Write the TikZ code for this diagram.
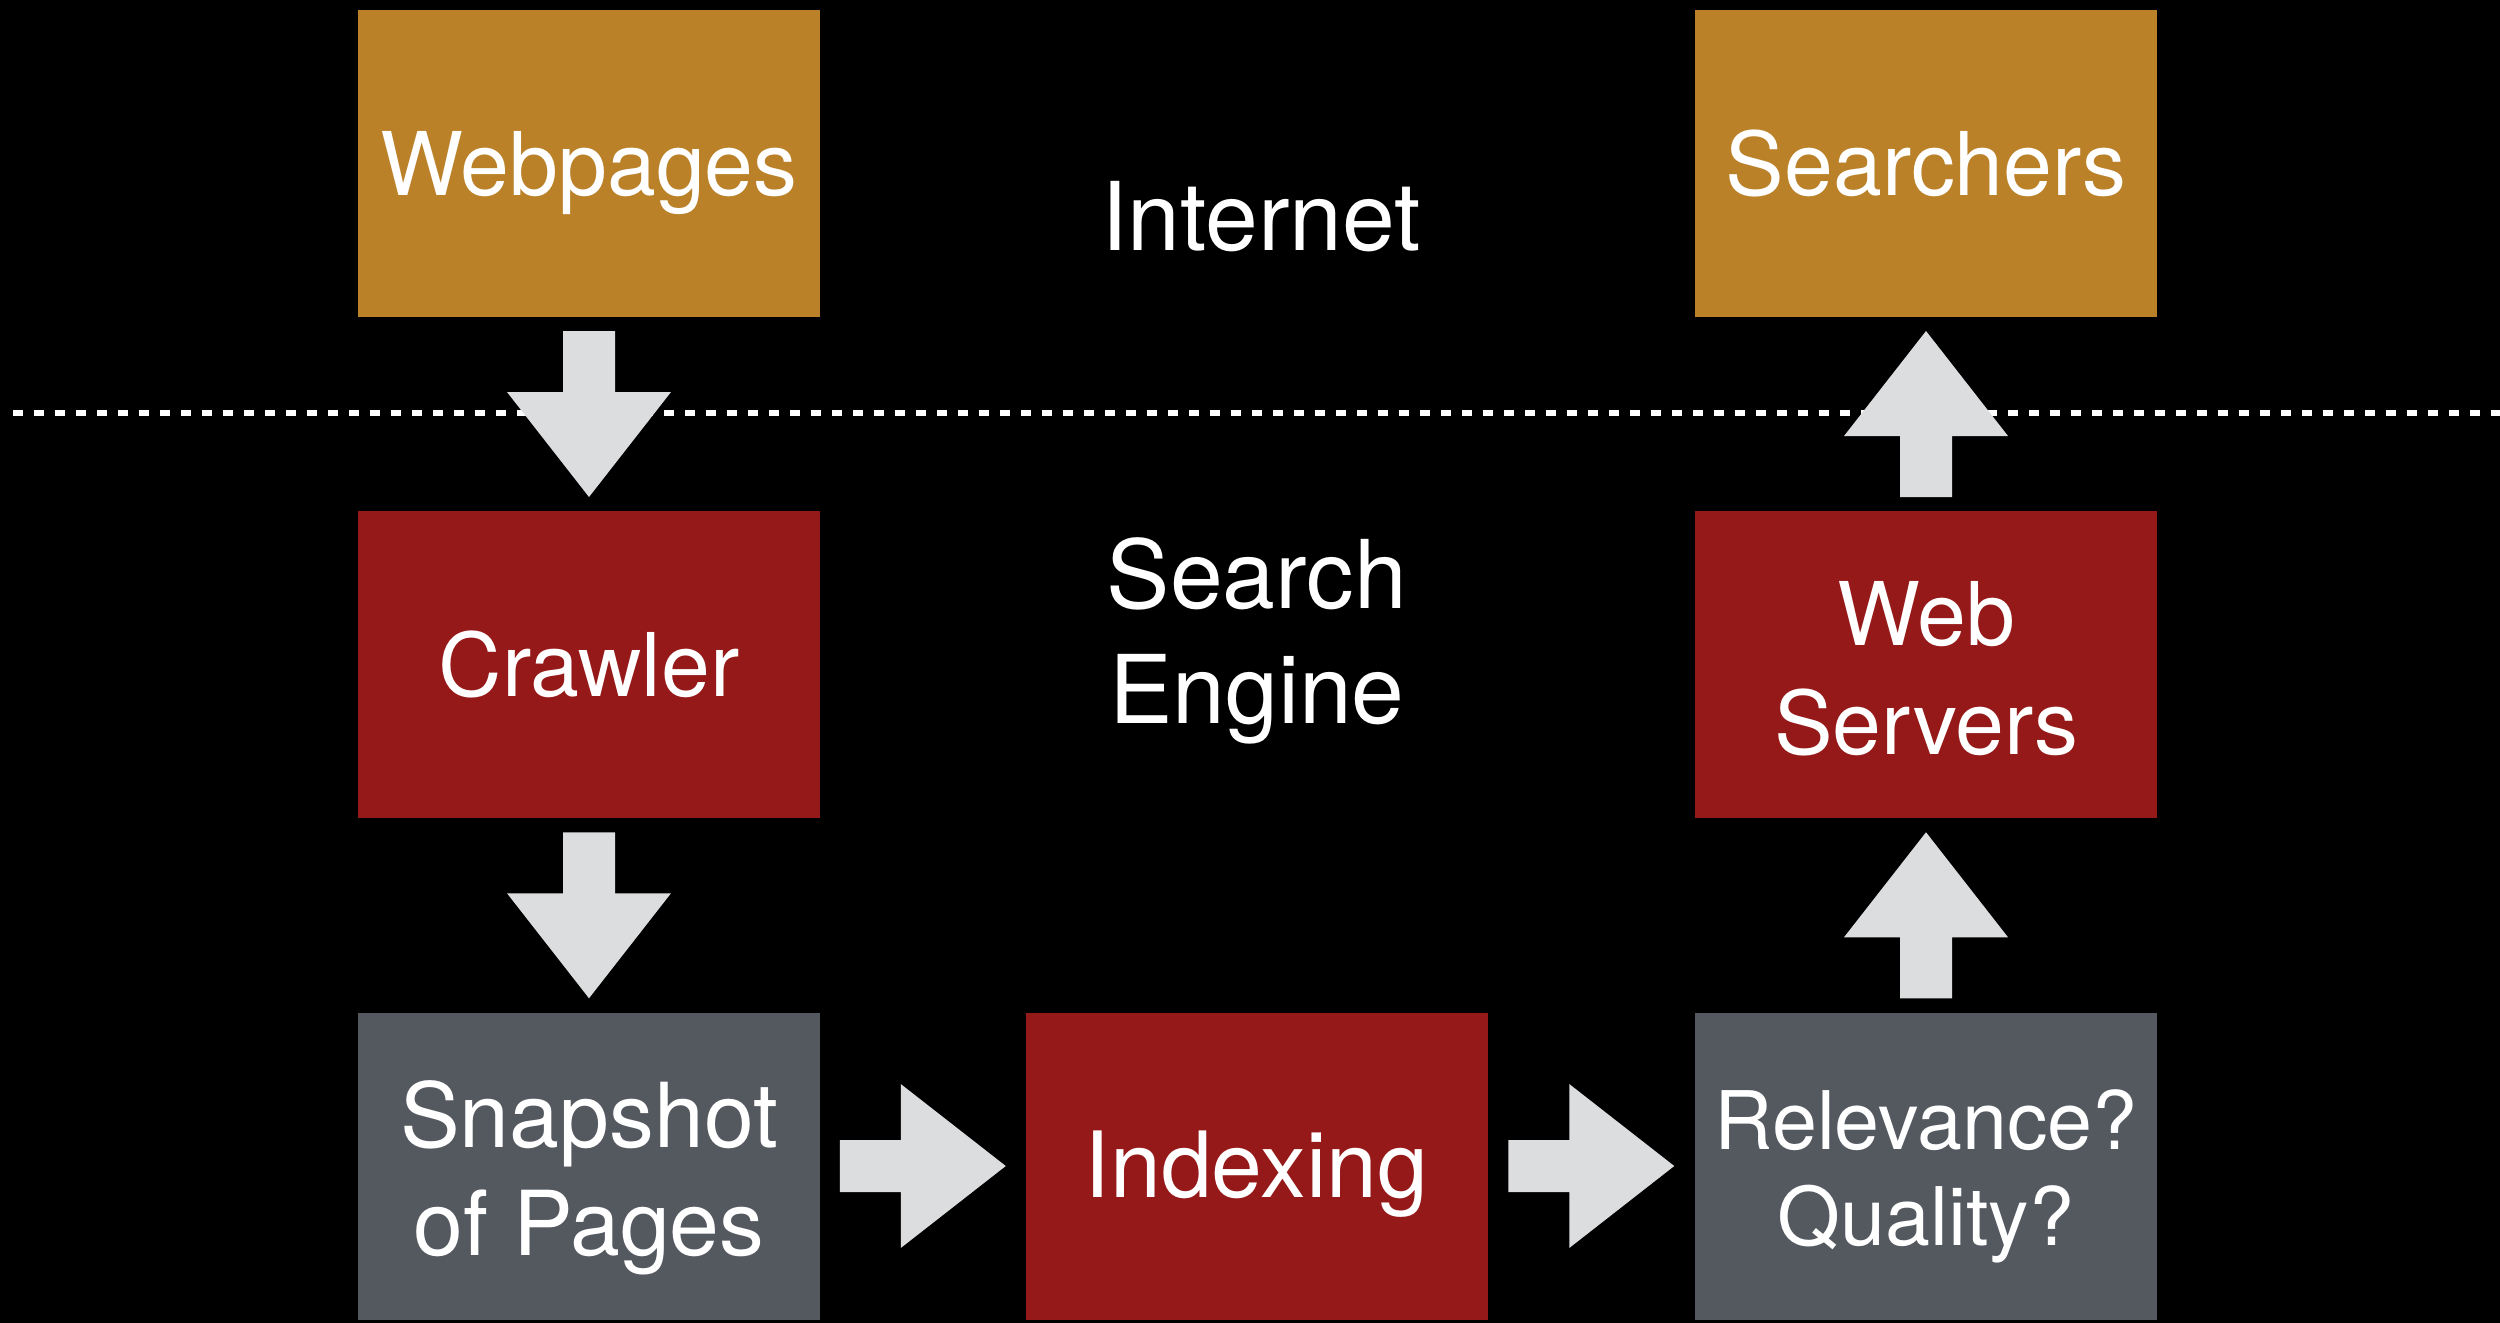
\documentclass[tikz,border=0pt]{standalone}
\usepackage{fontspec}
\setmainfont{TeX Gyre Heros}
\usetikzlibrary{calc}
\definecolor{gold}{HTML}{BB8129}
\definecolor{brick}{HTML}{961919}
\definecolor{slate}{HTML}{545960}
\definecolor{pale}{HTML}{DCDDDF}
\begin{document}
\begin{tikzpicture}[
  box/.style={minimum width=4.62cm, minimum height=3.07cm, inner sep=0pt,
    text=white, align=center, font=\fontsize{25}{31}\selectfont,
    text height=0.63cm, text depth=0pt},
  label/.style={inner sep=0pt, text=white, align=center,
    font=\fontsize{27}{32.7}\selectfont, text height=0.68cm, text depth=0pt},
  blockarrow/.pic={
    \fill[pale] (-0.83,-0.26) -- (-0.22,-0.26) -- (-0.22,-0.82) -- (0.83,0)
      -- (-0.22,0.82) -- (-0.22,0.26) -- (-0.83,0.26) -- cycle;
  }
]
% black page, filled a little past the page edges
\useasboundingbox (0,0) rectangle (25,-13.22);
\fill[black] (-0.1,0.1) rectangle (25.1,-13.32);

% border between the internet and the search engine
\coordinate (sepL) at (0.13,-4.13);
\coordinate (sepR) at (25,-4.13);
\draw[white, line width=0.06cm, dash pattern=on 0.10cm off 0.11cm] (sepL) -- (sepR);

% boxes (two-line texts: text height fixes the last baseline)
\node[box, fill=gold]  (webpages)  at (5.89,-1.635)  {Webpages};
\node[box, fill=gold]  (searchers) at (19.26,-1.635) {Searchers};
\node[box, fill=brick] (crawler)   at (5.89,-6.645)  {Crawler};
\node[box, fill=brick, text height=1.79cm] (servers) at (19.26,-6.645) {Web\\Servers};
\node[box, fill=slate, text height=1.78cm,
      font=\fontsize{25.5}{30.7}\selectfont] (snapshot) at (5.89,-11.66) {Snapshot\\of Pages};
\node[box, fill=brick, font=\fontsize{26}{31}\selectfont] (indexing) at (12.565,-11.66) {Indexing};
\node[box, fill=slate, text height=1.58cm,
      font=\fontsize{23}{27.3}\selectfont] (relevance) at (19.26,-11.66) {Relevance?\\Quality?};

% region labels
\node[label] (internet) at (12.61,-2.16) {Internet};
\node[label] (engine)   at (12.57,-6.89) {Search\\Engine};

% flow arrows
\pic[rotate=-90] at ($(webpages.south)!0.5!(crawler.north)$) {blockarrow};
\pic[rotate=-90] at ($(crawler.south)!0.5!(snapshot.north)$) {blockarrow};
\pic at ($(snapshot.east)!0.5!(indexing.west)$) {blockarrow};
\pic at ($(indexing.east)!0.5!(relevance.west)$) {blockarrow};
\pic[rotate=90] at ($(relevance.north)!0.5!(servers.south)$) {blockarrow};
\pic[rotate=90] at ($(servers.north)!0.5!(searchers.south)$) {blockarrow};
\end{tikzpicture}
\end{document}
